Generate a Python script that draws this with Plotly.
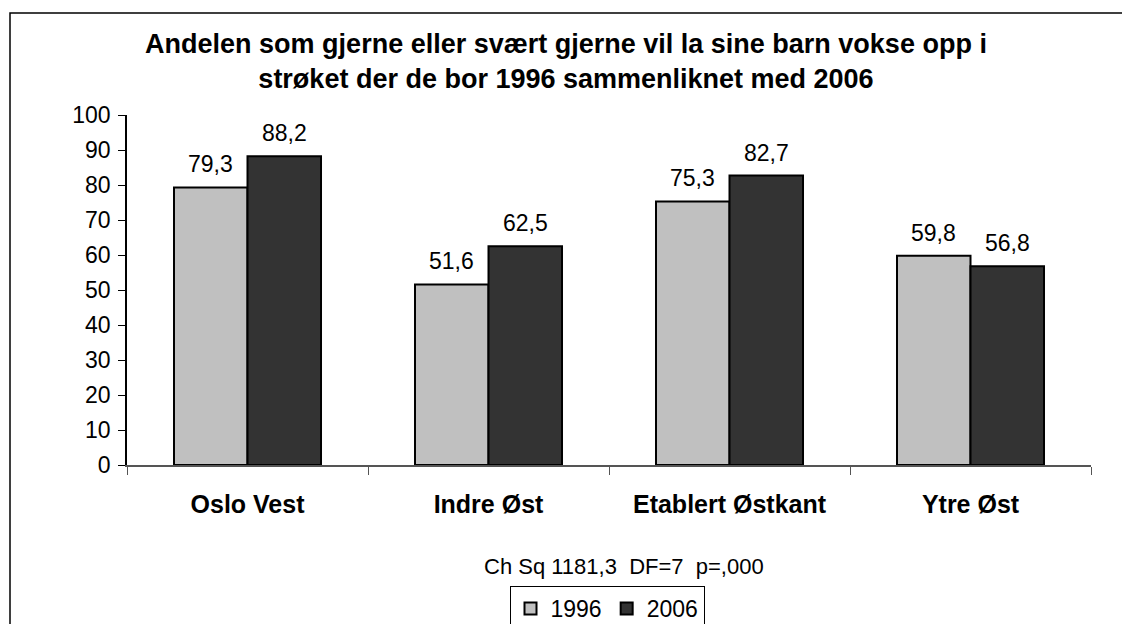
import plotly.graph_objects as go

categories = ["Oslo Vest", "Indre Øst", "Etablert Østkant", "Ytre Øst"]
values_1996 = [79.3, 51.6, 75.3, 59.8]
values_2006 = [88.2, 62.5, 82.7, 56.8]
series_names = ["1996", "2006"]
y_ticks = [0, 10, 20, 30, 40, 50, 60, 70, 80, 90, 100]
title_text = ("Andelen som gjerne eller svært gjerne vil la sine barn vokse opp i<br>"
              "strøket der de bor 1996 sammenliknet med 2006")
note_text = "Ch Sq 1181,3\u00a0\u00a0DF=7\u00a0\u00a0p=,000"

FONT = "Liberation Sans, Arial, sans-serif"
W, H = 1122, 624
ML, MR, MT, MB = 127, 31, 115, 159
plot_w = W - ML - MR
plot_h = H - MT - MB
BARGAP = 0.39


def px_x(vx):
    return (vx - ML) / plot_w


def px_y(vy):
    return (H - MB - vy) / plot_h


fig = go.Figure()
colors = ["#C0C0C0", "#333333"]
for name, vals, col in zip(series_names, [values_1996, values_2006], colors):
    fig.add_trace(go.Bar(
        x=categories, y=vals, name=name,
        marker=dict(color=col, line=dict(color="black", width=2)),
    ))

cat_w = plot_w / len(categories)
bar_w = cat_w * (1 - BARGAP) / 2
for i, vals in enumerate([values_1996, values_2006]):
    shift = (-0.5 if i == 0 else 0.5) * bar_w
    for c, v in zip(categories, vals):
        fig.add_annotation(
            x=c, y=v, xref="x", yref="y", text=f"{v:.1f}".replace(".", ","),
            showarrow=False, xshift=shift, yanchor="bottom", yshift=8,
            font=dict(family=FONT, size=23, color="black"),
        )

fig.add_annotation(
    x=px_x(624), y=px_y(566), xref="paper", yref="paper", text=note_text,
    showarrow=False, xanchor="center", yanchor="middle",
    font=dict(family=FONT, size=22, color="black"),
)

bx0, by0 = px_x(10), px_y(700)
bx1, by1 = px_x(1140), px_y(13)
border_path = f"M {bx0},{by0} L {bx0},{by1} L {bx1},{by1}"

fig.update_layout(
    width=W, height=H,
    margin=dict(l=ML, r=MR, t=MT, b=MB, autoexpand=False),
    paper_bgcolor="white", plot_bgcolor="white",
    barmode="group", bargap=BARGAP, bargroupgap=0,
    title=dict(text=title_text, x=566 / W, xref="container", xanchor="center",
               y=1 - 53 / H, yref="container", yanchor="middle",
               font=dict(family=FONT, size=27, color="black", weight="bold")),
    font=dict(family=FONT, size=22, color="black"),
    xaxis=dict(
        showline=True, linecolor="#555555", linewidth=1.5,
        ticks="outside", tickson="boundaries", ticklen=8, tickcolor="#555555",
        tickfont=dict(family=FONT, size=25, color="black", weight="bold"),
        ticklabelstandoff=16, showgrid=False, automargin=False,
    ),
    yaxis=dict(
        range=[0, 100], tickvals=y_ticks, showline=True, linecolor="black",
        linewidth=1.5, ticks="outside", ticklen=7, tickcolor="black",
        showgrid=False, zeroline=False, automargin=False,
        tickfont=dict(family=FONT, size=23, color="black"), ticklabelstandoff=3,
    ),
    showlegend=True,
    legend=dict(
        orientation="h", x=px_x(607), xanchor="center",
        y=px_y(586), yanchor="top",
        bordercolor="black", borderwidth=1, bgcolor="white",
        font=dict(family=FONT, size=23, color="black"),
        itemwidth=30, tracegroupgap=0,
    ),
    shapes=[dict(type="path", xref="paper", yref="paper", path=border_path,
                 line=dict(color="black", width=1.5), layer="below")],
)

fig.write_html(
    "out.html",
    config={"displayModeBar": False},
    post_script="document.body.style.margin='0';document.body.style.overflow='hidden';",
)
